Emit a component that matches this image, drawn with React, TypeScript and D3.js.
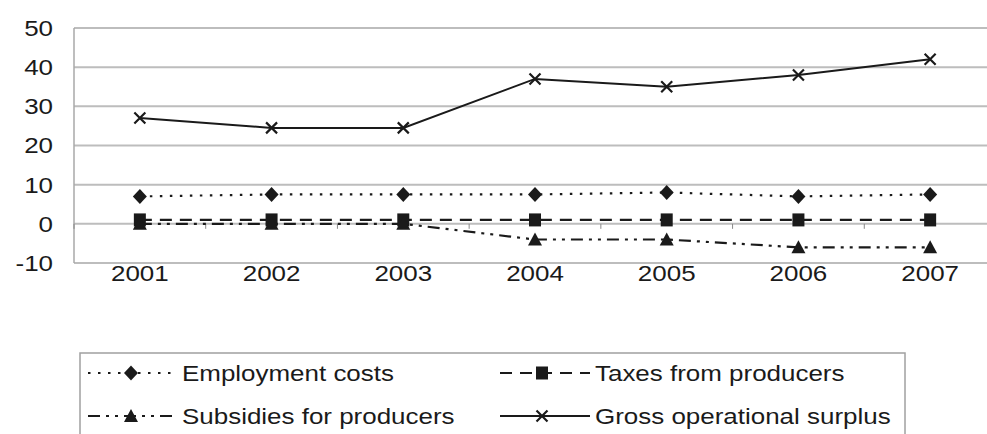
import React from "react";
import * as d3 from "d3";

const years = ["2001", "2002", "2003", "2004", "2005", "2006", "2007"];
const employmentCosts = [7, 7.5, 7.5, 7.5, 8, 7, 7.5];
const taxesFromProducers = [1, 1, 1, 1, 1, 1, 1];
const subsidiesForProducers = [0, 0, 0, -4, -4, -6, -6];
const grossOperationalSurplus = [27, 24.5, 24.5, 37, 35, 38, 42];
const yTicks = [-10, 0, 10, 20, 30, 40, 50];

const seriesNames = [
  "Employment costs",
  "Taxes from producers",
  "Subsidies for producers",
  "Gross operational surplus",
];

const W = 987;
const H = 434;
const FONT = "'Liberation Sans', Arial, sans-serif";
const INK = "#1a1a1a";
const SX = 1.18;

type Kind = "diamond" | "square" | "triangle" | "cross";

function Marker({ kind, x, y }: { kind: Kind; x: number; y: number }) {
  if (kind === "diamond") {
    return <path d={`M${x},${y - 7.5}L${x + 7},${y}L${x},${y + 7.5}L${x - 7},${y}Z`} fill={INK} />;
  }
  if (kind === "square") {
    return <rect x={x - 6} y={y - 6.5} width={12} height={13} fill={INK} />;
  }
  if (kind === "triangle") {
    return <path d={`M${x},${y - 7}L${x + 7},${y + 6}L${x - 7},${y + 6}Z`} fill={INK} />;
  }
  return (
    <path
      d={`M${x - 5.5},${y - 5.5}L${x + 5.5},${y + 5.5}M${x - 5.5},${y + 5.5}L${x + 5.5},${y - 5.5}`}
      stroke={INK}
      strokeWidth={2.2}
    />
  );
}

function Label({
  x,
  y,
  anchor,
  children,
}: {
  x: number;
  y: number;
  anchor: "start" | "middle" | "end";
  children: React.ReactNode;
}) {
  return (
    <text
      transform={`translate(${x},${y}) scale(${SX},1)`}
      dy="0.36em"
      textAnchor={anchor}
      fontSize={22}
      fill={INK}
    >
      {children}
    </text>
  );
}

export default function App() {
  const x = d3.scaleBand<string>().domain(years).range([74, 996]);
  const y = d3.scaleLinear().domain([-10, 50]).range([263, 28]);
  const cx = (yr: string) => (x(yr) ?? 0) + x.bandwidth() / 2;

  const series: { name: string; values: number[]; dash: string; kind: Kind; width: number }[] = [
    { name: seriesNames[0], values: employmentCosts, dash: "2.5,7.5", kind: "diamond", width: 2.2 },
    { name: seriesNames[1], values: taxesFromProducers, dash: "12,8", kind: "square", width: 2.2 },
    { name: seriesNames[2], values: subsidiesForProducers, dash: "12,6,3,6,3,6", kind: "triangle", width: 2.2 },
    { name: seriesNames[3], values: grossOperationalSurplus, dash: "", kind: "cross", width: 2 },
  ];

  const line = d3
    .line<number>()
    .x((_, i) => cx(years[i]))
    .y((v) => y(v));

  const legendPos = [
    { lx0: 88, lx1: 172, mx: 131, tx: 182, ty: 373 },
    { lx0: 500, lx1: 590, mx: 542, tx: 595, ty: 373 },
    { lx0: 88, lx1: 172, mx: 131, tx: 182, ty: 416 },
    { lx0: 500, lx1: 590, mx: 542, tx: 595, ty: 416 },
  ];

  return (
    <svg
      width={W}
      height={H}
      style={{ position: "absolute", left: 0, top: 0, background: "#fff" }}
      fontFamily={FONT}
    >
      <rect width={W} height={H} fill="#fff" />
      {yTicks.map((t) => (
        <line key={t} x1={74} x2={996} y1={y(t)} y2={y(t)} stroke="#bdbdbd" strokeWidth={2} />
      ))}
      <line x1={74} x2={74} y1={y(50)} y2={y(-10)} stroke="#a8a8a8" strokeWidth={1.5} />
      {years.map((yr) => (
        <line
          key={yr}
          x1={x(yr) ?? 0}
          x2={x(yr) ?? 0}
          y1={y(0)}
          y2={y(0) + 5}
          stroke="#888"
          strokeWidth={1}
        />
      ))}
      {yTicks.map((t) => (
        <Label key={t} x={53} y={y(t)} anchor="end">
          {t}
        </Label>
      ))}
      {years.map((yr) => (
        <Label key={yr} x={cx(yr)} y={273} anchor="middle">
          {yr}
        </Label>
      ))}
      {series.map((s) => (
        <g key={s.name}>
          <path
            d={line(s.values) ?? ""}
            fill="none"
            stroke={INK}
            strokeWidth={s.width}
            strokeDasharray={s.dash || undefined}
          />
          {s.values.map((v, i) => (
            <Marker key={i} kind={s.kind} x={cx(years[i])} y={y(v)} />
          ))}
        </g>
      ))}
      <rect x={80} y={353} width={825} height={110} fill="#fff" stroke="#a0a0a0" strokeWidth={1.5} />
      {series.map((s, i) => {
        const p = legendPos[i];
        return (
          <g key={s.name}>
            <line
              x1={p.lx0}
              x2={p.lx1}
              y1={p.ty}
              y2={p.ty}
              stroke={INK}
              strokeWidth={s.width}
              strokeDasharray={s.dash || undefined}
            />
            <Marker kind={s.kind} x={p.mx} y={p.ty} />
            <Label x={p.tx} y={p.ty} anchor="start">
              {s.name}
            </Label>
          </g>
        );
      })}
    </svg>
  );
}
